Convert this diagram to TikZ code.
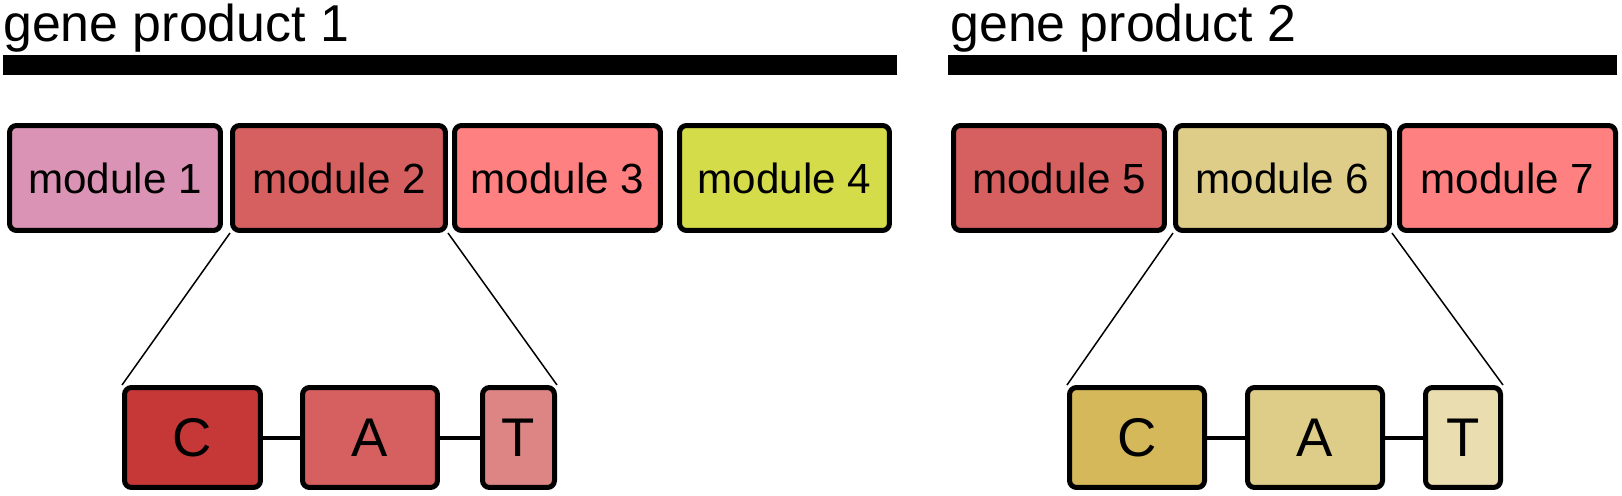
\documentclass[tikz,border=0pt]{standalone}
\usepackage{fontspec}
\setmainfont{Liberation Sans}
\usepackage{tikz}

\definecolor{modpink}{HTML}{DB93B5}
\definecolor{modred}{HTML}{D66060}
\definecolor{modsalmon}{HTML}{FF8080}
\definecolor{modlime}{HTML}{D4DC4A}
\definecolor{modsand}{HTML}{DECD88}
\definecolor{catred}{HTML}{C63838}
\definecolor{catrose}{HTML}{DD8585}
\definecolor{catgold}{HTML}{D4B85A}
\definecolor{catcream}{HTML}{EADDB0}

\tikzset{
  module/.style={draw, line width=0.1cm, rounded corners=0.14cm, fill=#1,
    minimum height=2.1cm, inner sep=0pt, font=\fontsize{24}{24}\selectfont},
  letter/.style={draw, line width=0.1cm, rounded corners=0.14cm, fill=#1,
    minimum height=2cm, inner sep=0pt, font=\fontsize{31}{31}\selectfont},
  title/.style={anchor=base west, inner sep=0pt, font=\fontsize{29.5}{29.5}\selectfont},
  zoomline/.style={line width=0.03cm},
  link/.style={line width=0.08cm}
}

\begin{document}
\begin{tikzpicture}[x=0.02cm, y=-0.02cm]
    \useasboundingbox (0,0) rectangle (1622,496);

    % gene products
    \node[title] (gp1) at (3,42) {gene product 1};
    \node[title] (gp2) at (950,42) {gene product 2};
    \fill (3,55) rectangle (897,75);
    \fill (948,55) rectangle (1617,75);

    % modules
    \node[module=modpink, minimum width=4.22cm] (m1) at (115,178) {module 1};
    \node[module=modred, minimum width=4.26cm] (m2) at (339,178) {module 2};
    \node[module=modsalmon, minimum width=4.12cm] (m3) at (557.5,178) {module 3};
    \node[module=modlime, minimum width=4.2cm] (m4) at (784.5,178) {module 4};
    \node[module=modred, minimum width=4.22cm] (m5) at (1059,178) {module 5};
    \node[module=modsand, minimum width=4.28cm] (m6) at (1282.5,178) {module 6};
    \node[module=modsalmon, minimum width=4.32cm] (m7) at (1507.5,178) {module 7};

    % C-A-T of module 2
    \node[letter=catred, minimum width=2.72cm] (c1) at (192.5,437.5) {C};
    \node[letter=modred, minimum width=2.7cm] (a1) at (370,437.5) {A};
    \node[letter=catrose, minimum width=1.44cm] (t1) at (518.5,437.5) {T};
    \draw[link] (c1) -- (a1);
    \draw[link] (a1) -- (t1);
    \draw[zoomline] (m2.south west) -- (c1.north west);
    \draw[zoomline] (m2.south east) -- (t1.north east);

    % C-A-T of module 6
    \node[letter=catgold, minimum width=2.7cm] (c2) at (1137,437.5) {C};
    \node[letter=modsand, minimum width=2.7cm] (a2) at (1315,437.5) {A};
    \node[letter=catcream, minimum width=1.5cm] (t2) at (1463,437.5) {T};
    \draw[link] (c2) -- (a2);
    \draw[link] (a2) -- (t2);
    \draw[zoomline] (m6.south west) -- (c2.north west);
    \draw[zoomline] (m6.south east) -- (t2.north east);
\end{tikzpicture}
\end{document}
